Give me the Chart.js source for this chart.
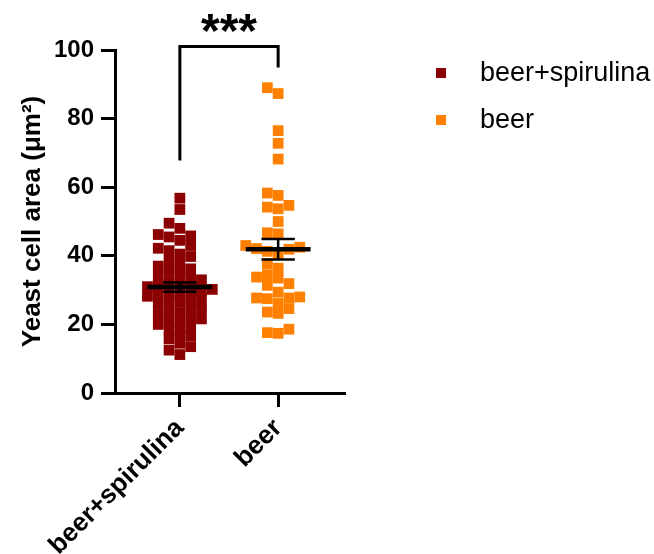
<!DOCTYPE html>
<html><head><meta charset="utf-8">
<script src="https://cdn.jsdelivr.net/npm/chart.js@4.4.1/dist/chart.umd.min.js"></script>
<style>html,body{margin:0;padding:0;background:#fff;}</style>
</head><body>
<canvas id="c" width="654" height="554" style="width:654px;height:554px;display:block"></canvas>
<script>
// ---------- data ----------
const categories = ['beer+spirulina', 'beer'];
const spirulinaValues = [56.8, 53.5, 49.5, 48.0, 46.2, 45.8, 45.5, 44.5, 43.0, 42.2,
  41.5, 40.5, 39.8, 38.5, 37.8, 37.0, 36.2, 35.5, 35.0, 34.2,
  33.5, 33.0, 32.5, 32.0, 31.5, 31.0, 30.6, 30.2, 29.8, 29.5,
  29.0, 28.6, 28.2, 27.8, 27.2, 26.8, 26.4, 25.8, 25.2, 24.6,
  24.0, 23.4, 22.8, 22.2, 21.6, 21.0, 20.5, 20.0, 19.2, 18.4,
  17.5, 16.6, 15.8, 14.5, 13.5, 12.5, 11.2];
const beerValues = [89.0, 87.3, 76.5, 72.8, 68.2, 58.3, 57.6, 54.7, 54.2, 53.7,
  50.0, 46.7, 46.4, 43.0, 42.5, 42.1, 41.9, 41.3, 40.6, 37.7,
  36.4, 34.5, 33.8, 33.5, 31.9, 31.4, 29.4, 28.0, 27.7, 27.7,
  27.5, 26.1, 24.6, 23.6, 23.2, 18.6, 17.6, 17.4];
const groupMeans = [30.9, 41.9];
const groupSems = [1.35, 3.0];
const yTickValues = [0, 20, 40, 60, 80, 100];
const significanceLabel = '***';
const bracketTop = 101;
const bracketLeftEnd = 67.8;
const bracketRightEnd = 94.9;
const yAxisTitle = 'Yeast cell area (\u03bcm\u00b2)';

// ---------- style ----------
const COLORS = ['#8b0000', '#ff8000'];
const FONT = "'Liberation Sans', Arial, Helvetica, sans-serif";
const MEAN_HALF = 0.33, CAP_HALF = 0.17;

function meanSet(i) {
  return {type: 'line', data: [{x: i - MEAN_HALF, y: groupMeans[i]}, {x: i + MEAN_HALF, y: groupMeans[i]}],
    borderColor: '#000', borderWidth: 4.5, pointRadius: 0, order: -1, clip: false};
}
function errSets(i) {
  const lo = groupMeans[i] - groupSems[i], hi = groupMeans[i] + groupSems[i];
  const base = {type: 'line', borderColor: '#000', borderWidth: 2.5, pointRadius: 0, order: -1, clip: false};
  return [
    Object.assign({}, base, {data: [{x: i, y: lo}, {x: i, y: hi}]}),
    Object.assign({}, base, {data: [{x: i - CAP_HALF, y: hi}, {x: i + CAP_HALF, y: hi}]}),
    Object.assign({}, base, {data: [{x: i - CAP_HALF, y: lo}, {x: i + CAP_HALF, y: lo}]})
  ];
}
const bracketSet = {type: 'line',
  data: [{x: 0, y: bracketLeftEnd}, {x: 0, y: bracketTop}, {x: 1, y: bracketTop}, {x: 1, y: bracketRightEnd}],
  borderColor: '#000', borderWidth: 3, pointRadius: 0, clip: false, borderJoinStyle: 'miter'};

const groups = [spirulinaValues, beerValues];
const scatterSets = groups.map((vals, gi) => ({
  type: 'scatter', label: categories[gi],
  data: vals.map(v => ({x: gi, y: v})),
  pointStyle: 'rect', radius: 7.6, borderWidth: 0,
  backgroundColor: COLORS[gi], borderColor: COLORS[gi], order: 1
}));

const overlay = {
  id: 'overlay',
  afterDraw(chart) {
    const ctx = chart.ctx;
    const xs = chart.scales.x, ys = chart.scales.y;
    ctx.save();
    ctx.fillStyle = '#000';
    ctx.font = 'bold 48px ' + FONT;
    ctx.textAlign = 'center';
    ctx.textBaseline = 'alphabetic';
    ctx.fillText(significanceLabel, xs.getPixelForValue(0.5), ys.getPixelForValue(bracketTop) + 0);
    // legend
    ctx.textAlign = 'left';
    ctx.textBaseline = 'middle';
    ctx.font = '27px ' + FONT;
    categories.forEach((c, i) => {
      const y = 73 + i * 47;
      ctx.fillStyle = COLORS[i];
      ctx.fillRect(436, y - 5, 10, 10);
      ctx.fillStyle = '#000';
      ctx.fillText(c, 480, y + 1);
    });
    ctx.restore();
  }
};

const chart = new Chart(document.getElementById('c'), {
  data: {datasets: [...scatterSets, meanSet(0), meanSet(1), ...errSets(0), ...errSets(1), bracketSet]},
  options: {
    responsive: false, animation: false, devicePixelRatio: 1,
    layout: {padding: {top: 50, right: 310, left: 0, bottom: 0}},
    plugins: {legend: {display: false}, tooltip: {enabled: false}},
    scales: {
      x: {type: 'linear', min: -0.66, max: 1.67,
        afterBuildTicks: s => { s.ticks = [{value: 0}, {value: 1}]; },
        afterFit: s => { s.height = 161; },
        ticks: {callback: v => categories[v], minRotation: 45, maxRotation: 45, color: '#000', padding: 6,
          font: {family: FONT, size: 26, weight: 'bold'}},
        grid: {drawOnChartArea: false, drawTicks: true, tickLength: 14, color: '#000', lineWidth: 3},
        border: {display: true, color: '#000', width: 3}
      },
      y: {type: 'linear', min: 0, max: 100,
        afterBuildTicks: s => { s.ticks = yTickValues.map(v => ({value: v})); },
        afterFit: s => { s.width = 115; },
        ticks: {color: '#000', padding: 7, font: {family: FONT, size: 24, weight: 'bold'}},
        grid: {drawOnChartArea: false, drawTicks: true, tickLength: 14, color: '#000', lineWidth: 3},
        border: {display: true, color: '#000', width: 3},
        title: {display: true, text: yAxisTitle, color: '#000', padding: {top: 17, bottom: 0},
          font: {family: FONT, size: 26, weight: 'bold'}}
      }
    }
  },
  plugins: [overlay]
});

// beeswarm layout computed through the chart's scales
function swarmOffsets(values, pxPerY, size) {
  const order = values.map((v, i) => i).sort((a, b) => values[a] - values[b]);
  const cands = [0];
  for (let k = 1; k < 30; k++) { cands.push(-k * 0.5 * size, k * 0.5 * size); }
  const placed = [], offs = new Array(values.length).fill(0);
  for (const i of order) {
    const y = values[i] * pxPerY;
    for (const c of cands) {
      if (!placed.some(p => Math.abs(p.x - c) < size * 0.95 && Math.abs(p.y - y) < size * 0.8)) {
        offs[i] = c; placed.push({x: c, y}); break;
      }
    }
  }
  return offs;
}
const xs = chart.scales.x, ys = chart.scales.y;
const pxPerX = xs.getPixelForValue(1) - xs.getPixelForValue(0);
const pxPerY = ys.getPixelForValue(0) - ys.getPixelForValue(1);
groups.forEach((vals, gi) => {
  const offs = swarmOffsets(vals, pxPerY, 10.8);
  chart.data.datasets[gi].data = vals.map((v, i) => ({x: gi + offs[i] / pxPerX, y: v}));
});
chart.update('none');
</script>
</body></html>
